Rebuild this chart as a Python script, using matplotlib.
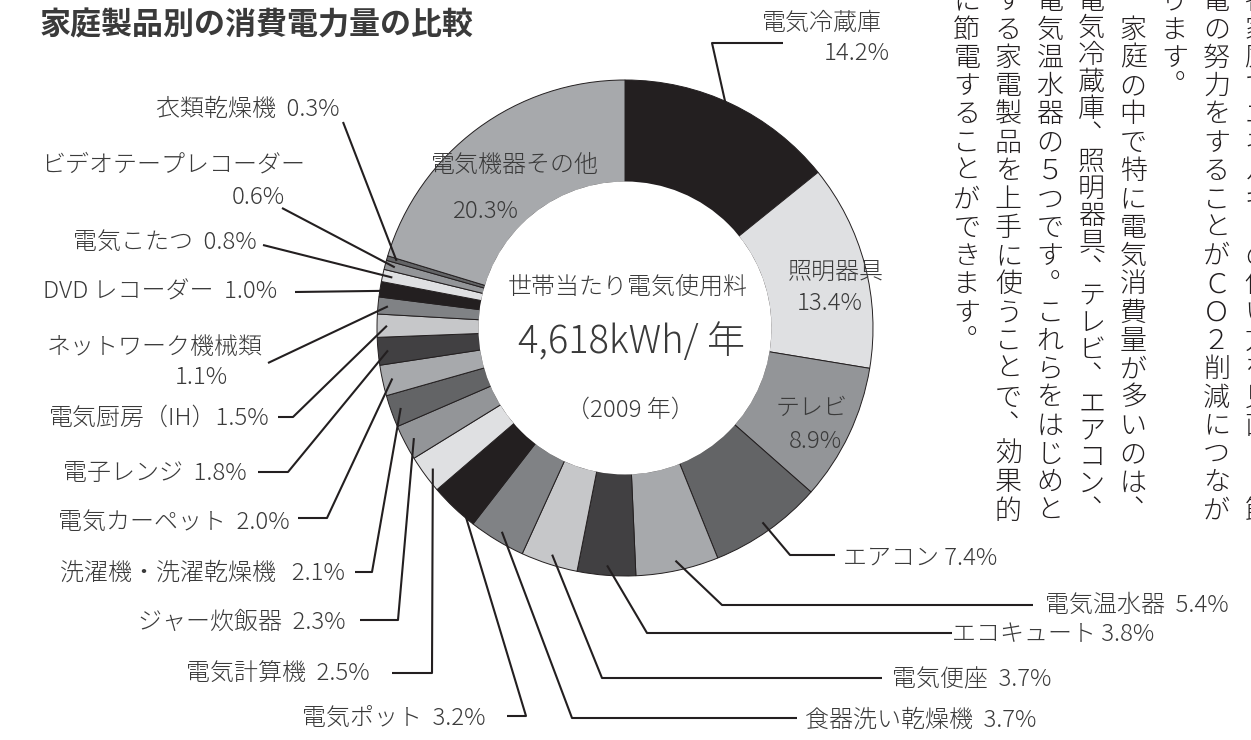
import numpy as np
import matplotlib
matplotlib.use('Agg')
import matplotlib.pyplot as plt
from matplotlib.patches import Circle

plt.rcParams['font.family'] = ['Noto Sans CJK JP', 'DejaVu Sans']
plt.rcParams['font.weight'] = 'light'

# ---- data (share of household electricity use, %) ----
items = ['電気冷蔵庫', '照明器具', 'テレビ', 'エアコン', '電気温水器', 'エコキュート',
         '電気便座', '食器洗い乾燥機', '電気ポット', '電気計算機', 'ジャー炊飯器',
         '洗濯機・洗濯乾燥機', '電気カーペット', '電子レンジ', '電気厨房（IH）',
         'ネットワーク機械類', 'DVD レコーダー', '電気こたつ', 'ビデオテープレコーダー',
         '衣類乾燥機', '電気機器その他']
share = [14.2, 13.4, 8.9, 7.4, 5.4, 3.8, 3.7, 3.7, 3.2, 2.5, 2.3, 2.1, 2.0, 1.8,
         1.5, 1.1, 1.0, 0.8, 0.6, 0.3, 20.3]

title = '家庭製品別の消費電力量の比較'
center_lines = ['世帯当たり電気使用料', '4,618kWh/ 年', '（2009 年）']

# vertical text columns, right to left
columns = ['各家庭でエネルギ︱の使い方を見直し、節',
           '電の努力をすることがＣＯ２削減につなが',
           'ります。',
           '家庭の中で特に電気消費量が多いのは、',
           '電気冷蔵庫、照明器具、テレビ、エアコン、',
           '電気温水器の５つです。これらをはじめと',
           'する家電製品を上手に使うことで、効果的',
           'に節電することができます。']
col_start = [0, 0, 0, 1, 0, 0, 0, 0]

palette = ['#231f20', '#dfe0e2', '#939598', '#636466',
           '#a7a9ac', '#414042', '#c6c7c9', '#808285']
ink = '#231f20'
txt = '#3a3a3a'

W, H = 1251, 740
PX = 0.72  # points per pixel at dpi 100

# label layout in pixel coordinates (y down)
layout = {
    '電気冷蔵庫': dict(kind='two', name=(882, 23, 'right'), pct=(890, 53, 'right'),
                  path=[(712, 43), (783, 43)]),
    '照明器具': dict(kind='inside', name=(836, 272), pct=(830, 303)),
    'テレビ': dict(kind='inside', name=(812, 408), pct=(815, 442)),
    '電気機器その他': dict(kind='inside', name=(515, 165), pct=(486, 212)),
    'エアコン': dict(kind='one', pos=(843, 558, 'left'), sep=' ',
                 path=[(790, 555), (835, 555)]),
    '電気温水器': dict(kind='one', pos=(1045, 605, 'left'), sep='  ',
                  path=[(722, 605), (1033, 605)]),
    'エコキュート': dict(kind='one', pos=(952, 635, 'left'), sep=' ',
                   path=[(647, 633), (952, 633)]),
    '電気便座': dict(kind='one', pos=(892, 680, 'left'), sep='  ',
                 path=[(602, 678), (882, 678)]),
    '食器洗い乾燥機': dict(kind='one', pos=(805, 720, 'left'), sep='  ',
                    path=[(572, 718), (797, 718)]),
    '電気ポット': dict(kind='one', pos=(485, 718, 'right'), sep='  ',
                  path=[(526, 716), (507, 716)]),
    '電気計算機': dict(kind='one', pos=(370, 673, 'right'), sep='  ',
                  path=[(432, 673), (392, 673)]),
    'ジャー炊飯器': dict(kind='one', pos=(345, 622, 'right'), sep='  ',
                   path=[(398, 620), (360, 620)]),
    '洗濯機・洗濯乾燥機': dict(kind='one', pos=(345, 573, 'right'), sep='   ',
                      path=[(372, 572), (355, 572)]),
    '電気カーペット': dict(kind='one', pos=(290, 522, 'right'), sep='  ',
                    path=[(327, 518), (298, 518)]),
    '電子レンジ': dict(kind='one', pos=(247, 473, 'right'), sep='  ',
                  path=[(288, 472), (258, 472)]),
    '電気厨房（IH）': dict(kind='one', pos=(270, 418, 'right'), sep='',
                     path=[(293, 417), (278, 417)]),
    'ネットワーク機械類': dict(kind='two', name=(263, 347, 'right'), pct=(228, 377, 'right'),
                      path=[(268, 363)]),
    'DVD レコーダー': dict(kind='one', pos=(277, 292, 'right'), sep='  ',
                       path=[(295, 292)]),
    '電気こたつ': dict(kind='one', pos=(257, 242, 'right'), sep='  ',
                  path=[(263, 245)]),
    'ビデオテープレコーダー': dict(kind='two', name=(305, 165, 'right'), pct=(285, 197, 'right'),
                        path=[(282, 208)]),
    '衣類乾燥機': dict(kind='one', pos=(340, 110, 'right'), sep='  ',
                  path=[(343, 122)]),
}

fig = plt.figure(figsize=(W / 100, H / 100), dpi=100)
ax = fig.add_axes([0, 0, 1, 1])

# donut: y axis is inverted below, so counterclock in data = clockwise on screen
cx, cy, R, ring = 625, 328, 248, 102
cols = [palette[i % len(palette)] for i in range(len(share))]
ax.pie(share, colors=cols, startangle=-90, counterclock=True, center=(cx, cy),
       radius=R, wedgeprops=dict(width=ring, edgecolor=ink, linewidth=0.7))
ax.add_patch(Circle((cx, cy), R - ring + 0.5, facecolor='white', edgecolor='none', zorder=3))

ax.set_xlim(0, W)
ax.set_ylim(H, 0)
ax.set_aspect('auto')
ax.axis('off')

# leader lines + labels
vals = np.array(share)
mid = (np.cumsum(vals) - vals / 2) / vals.sum() * 2 * np.pi
fs = 24 * PX
for name, v, th in zip(items, share, mid):
    lay = layout[name]
    pct = f'{v:.1f}%'
    if lay['kind'] == 'inside':
        ax.text(*lay['name'], name, ha='center', va='center', fontsize=fs, color=txt, zorder=5)
        ax.text(*lay['pct'], pct, ha='center', va='center', fontsize=fs, color=txt, zorder=5)
        continue
    r = 0.96 * R
    ax_, ay_ = cx + r * np.sin(th), cy - r * np.cos(th)
    xs = [ax_] + [p[0] for p in lay['path']]
    ys = [ay_] + [p[1] for p in lay['path']]
    ax.plot(xs, ys, color=ink, lw=1.5, solid_capstyle='butt', zorder=4)
    if lay['kind'] == 'one':
        x, y, ha = lay['pos']
        ax.text(x, y, name + lay['sep'] + pct, ha=ha, va='center', fontsize=fs, color=txt)
    else:
        x, y, ha = lay['name']
        ax.text(x, y, name, ha=ha, va='center', fontsize=fs, color=txt)
        x, y, ha = lay['pct']
        ax.text(x, y, pct, ha=ha, va='center', fontsize=fs, color=txt)

# centre text
ax.text(628, 287, center_lines[0], ha='center', va='center', fontsize=fs, color=txt, zorder=5)
ax.text(631, 342, center_lines[1], ha='center', va='center', fontsize=38 * PX, color=txt, zorder=5)
ax.text(630, 410, center_lines[2], ha='center', va='center', fontsize=fs, color=txt, zorder=5)

# title
ax.text(40, 25, title, ha='left', va='center', fontsize=31 * PX, fontweight='bold', color='#3a3a3a')

# vertical body text
em = 27
pitch = 28.3
col_x = [1258 - 41.6 * k for k in range(len(columns))]
for k, (s, st) in enumerate(zip(columns, col_start)):
    p = pitch if len(s) + st <= 19 else pitch * 18 / (len(s) + st - 1)
    for i, ch in enumerate(s):
        yc = -1 + p * (st + i)
        x, yb = col_x[k], yc + 0.38 * em
        if ch in '、。':
            x += 0.5 * em
            yb -= 0.58 * em
        ax.text(x, yb, ch, ha='center', va='baseline', fontsize=em * PX, color=ink)

fig.savefig('out.png', dpi=100)
